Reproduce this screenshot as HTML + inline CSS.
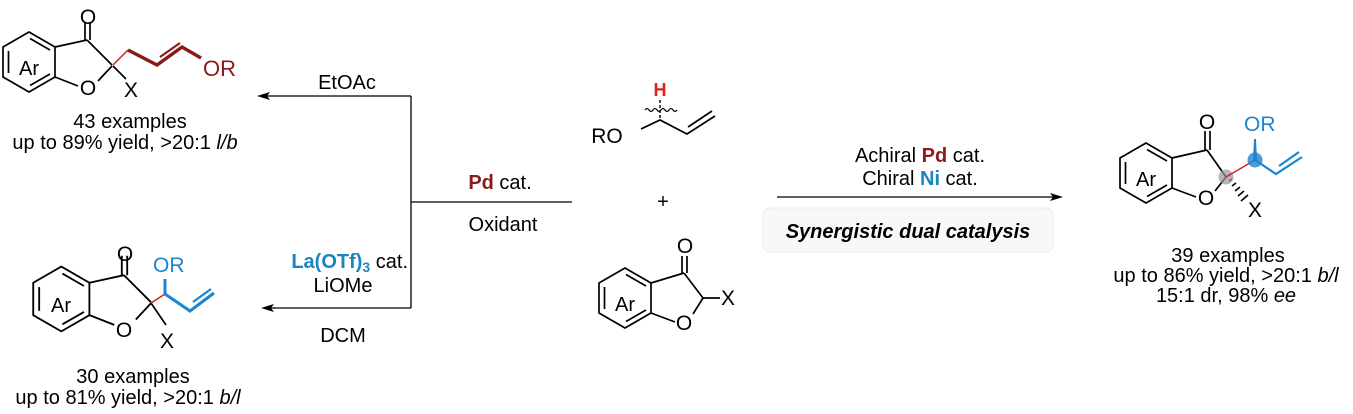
<!DOCTYPE html>
<html><head><meta charset="utf-8"><style>
html,body{margin:0;padding:0;background:#fff;}
svg{display:block;font-family:"Liberation Sans",Arial,sans-serif;}
</style></head><body>
<svg width="1353" height="414" viewBox="0 0 1353 414" xmlns="http://www.w3.org/2000/svg">
<defs>
<g id="benz" fill="none" stroke="#000" stroke-width="1.7">
  <polygon points="29,32 55,47 55,77 29,92 3,77 3,47"/>
  <line x1="8.5" y1="51" x2="8.5" y2="73"/>
  <line x1="30" y1="38.5" x2="50" y2="50"/>
  <line x1="30" y1="85.5" x2="50" y2="74"/>
</g>
<g id="core" fill="none" stroke="#000" stroke-width="1.7">
  <use href="#benz"/>
  <line x1="55" y1="47" x2="87" y2="40"/>
  <line x1="85" y1="40" x2="85" y2="22"/>
  <line x1="90" y1="40" x2="90" y2="22"/>
  <line x1="87" y1="40" x2="112" y2="65"/>
  <line x1="112" y1="66" x2="98" y2="81"/>
  <line x1="78" y1="86" x2="55" y2="77"/>
</g>
</defs>
<g font-size="20">
<!-- top-left product -->
<use href="#core"/>
<text x="29" y="75" text-anchor="middle">Ar</text>
<text x="88" y="24" text-anchor="middle" font-size="21">O</text>
<text x="88" y="95" text-anchor="middle" font-size="21">O</text>
<line x1="113" y1="66" x2="126" y2="79" stroke="#000" stroke-width="1.7"/>
<text x="131" y="97" text-anchor="middle" font-size="21">X</text>
<line x1="113" y1="65" x2="128" y2="50" stroke="#d02020" stroke-width="1.4"/>
<polyline points="128,50 157,65 182,47 201,58" fill="none" stroke="#8b1a1a" stroke-width="3.4"/>
<line x1="160" y1="57" x2="180" y2="43" stroke="#8b1a1a" stroke-width="2.2"/>
<text x="203" y="76" fill="#8b1a1a" font-size="22">OR</text>
<text x="130" y="128" text-anchor="middle">43 examples</text>
<text x="125" y="149" text-anchor="middle">up to 89% yield, &gt;20:1 <tspan font-style="italic">l/b</tspan></text>

<!-- bottom-left product -->
<g transform="translate(30,232) scale(1.08)"><use href="#core"/></g>
<text x="61" y="312" text-anchor="middle">Ar</text>
<text x="125" y="261" text-anchor="middle" font-size="21">O</text>
<text x="124" y="337" text-anchor="middle" font-size="21">O</text>
<line x1="151" y1="303" x2="166" y2="325" stroke="#000" stroke-width="1.7"/>
<text x="167" y="348" text-anchor="middle" font-size="21">X</text>
<line x1="151" y1="303" x2="165" y2="294" stroke="#d02020" stroke-width="1.4"/>
<line x1="165" y1="294" x2="165" y2="279" stroke="#1a86d0" stroke-width="3"/>
<polyline points="165,294 190,311 214,293" fill="none" stroke="#1a86d0" stroke-width="3"/>
<line x1="193" y1="302" x2="211" y2="289" stroke="#1a86d0" stroke-width="2.2"/>
<text x="153" y="272" fill="#1a86d0" font-size="21">OR</text>
<text x="133" y="383" text-anchor="middle">30 examples</text>
<text x="128" y="404" text-anchor="middle">up to 81% yield, &gt;20:1 <tspan font-style="italic">b/l</tspan></text>

<!-- arrows left -->
<g stroke="#000" stroke-width="1.3" fill="none">
<line x1="411" y1="96" x2="264" y2="96"/>
<line x1="411" y1="96" x2="411" y2="308"/>
<line x1="411" y1="308" x2="268" y2="308"/>
<line x1="411" y1="202" x2="572" y2="202"/>
<line x1="777" y1="197" x2="1056" y2="197"/>
</g>
<polygon points="257,96 270,92 267,96 270,100" fill="#000"/>
<polygon points="261,308 274,304 271,308 274,312" fill="#000"/>
<polygon points="1063,197 1050,193 1053,197 1050,201" fill="#000"/>
<text x="347" y="89" text-anchor="middle">EtOAc</text>
<text x="500" y="189" text-anchor="middle"><tspan font-weight="bold" fill="#8b1a1a">Pd</tspan> cat.</text>
<text x="503" y="231" text-anchor="middle">Oxidant</text>
<text x="408" y="268" text-anchor="end"><tspan font-weight="bold" fill="#1a86c0">La(OTf)<tspan font-size="14" dy="4">3</tspan></tspan><tspan dy="-4"> cat.</tspan></text>
<text x="343" y="292" text-anchor="middle">LiOMe</text>
<text x="343" y="342" text-anchor="middle">DCM</text>

<!-- center reactants -->
<text x="660" y="96" text-anchor="middle" fill="#e02020" font-weight="bold" font-size="18">H</text>
<line x1="660" y1="100" x2="660" y2="120" stroke="#000" stroke-width="1.4" stroke-dasharray="3,2"/>
<path d="M645,110 q2,-3 4,0 t4,0 t4,0 t4,0 t4,0 t4,0 t4,0 t4,0" fill="none" stroke="#000" stroke-width="1.2"/>
<polyline points="641,129 660,120 687,134 715,116" fill="none" stroke="#000" stroke-width="1.7"/>
<line x1="688" y1="127" x2="712" y2="111" stroke="#000" stroke-width="1.7"/>
<text x="607" y="143" text-anchor="middle" font-size="21">RO</text>
<text x="663" y="208" text-anchor="middle">+</text>
<g transform="translate(596,236)">
<g fill="none" stroke="#000" stroke-width="1.7">
  <use href="#benz"/>
  <line x1="55" y1="47" x2="88" y2="37"/>
  <line x1="86" y1="37" x2="86" y2="20"/>
  <line x1="91" y1="37" x2="91" y2="20"/>
  <line x1="88" y1="37" x2="107" y2="62"/>
  <line x1="107" y1="62" x2="97" y2="78"/>
  <line x1="79" y1="86" x2="55" y2="77"/>
  <line x1="107" y1="62" x2="124" y2="62"/>
</g>
<text x="29" y="75" text-anchor="middle">Ar</text>
<text x="89" y="17" text-anchor="middle" font-size="21">O</text>
<text x="88" y="94" text-anchor="middle" font-size="21">O</text>
<text x="125" y="69" font-size="21">X</text>
</g>

<!-- right conditions -->
<text x="920" y="162" text-anchor="middle">Achiral <tspan font-weight="bold" fill="#8b1a1a">Pd</tspan> cat.</text>
<text x="920" y="185" text-anchor="middle">Chiral <tspan font-weight="bold" fill="#1a86c0">Ni</tspan> cat.</text>
<rect x="763" y="208" width="290" height="44" rx="7" fill="#f7f8fa" stroke="#ececf0"/>
<text x="908" y="238" text-anchor="middle" font-weight="bold" font-style="italic">Synergistic dual catalysis</text>

<!-- right product -->
<g transform="translate(1117,111)">
<g fill="none" stroke="#000" stroke-width="1.7">
  <use href="#benz"/>
  <line x1="55" y1="47" x2="90" y2="39"/>
  <line x1="88" y1="39" x2="88" y2="20"/>
  <line x1="93" y1="39" x2="93" y2="20"/>
  <line x1="90" y1="39" x2="109" y2="66"/>
  <line x1="109" y1="66" x2="98" y2="80"/>
  <line x1="79" y1="86" x2="55" y2="77"/>
</g>
<g stroke="#000" stroke-width="1.6">
  <line x1="112" y1="70" x2="115" y2="68"/><line x1="115" y1="75" x2="119" y2="72"/><line x1="118" y1="80" x2="123" y2="76"/><line x1="121" y1="85" x2="127" y2="80"/><line x1="124" y1="90" x2="131" y2="84"/>
</g>
<circle cx="109" cy="66" r="7.5" fill="#999" opacity="0.7"/>
<line x1="109" y1="66" x2="138" y2="49" stroke="#d02020" stroke-width="1.4"/>
<polygon points="136,49 140,49 139,28 137,28" fill="#1a86d0"/>
<circle cx="138" cy="49" r="7.5" fill="#1a86d0" opacity="0.8"/>
<polyline points="138,49 159,63 185,46" fill="none" stroke="#1a86d0" stroke-width="2.2"/>
<line x1="162" y1="55" x2="182" y2="41" stroke="#1a86d0" stroke-width="2.2"/>
<text x="29" y="75" text-anchor="middle">Ar</text>
<text x="90" y="18" text-anchor="middle" font-size="21">O</text>
<text x="89" y="94" text-anchor="middle" font-size="21">O</text>
<text x="131" y="106" font-size="21">X</text>
<text x="127" y="20" fill="#1a86d0" font-size="21">OR</text>
</g>
<text x="1228" y="262" text-anchor="middle">39 examples</text>
<text x="1226" y="282" text-anchor="middle">up to 86% yield, &gt;20:1 <tspan font-style="italic">b/l</tspan></text>
<text x="1226" y="302" text-anchor="middle">15:1 dr, 98% <tspan font-style="italic">ee</tspan></text>
</g>
</svg>
</body></html>
